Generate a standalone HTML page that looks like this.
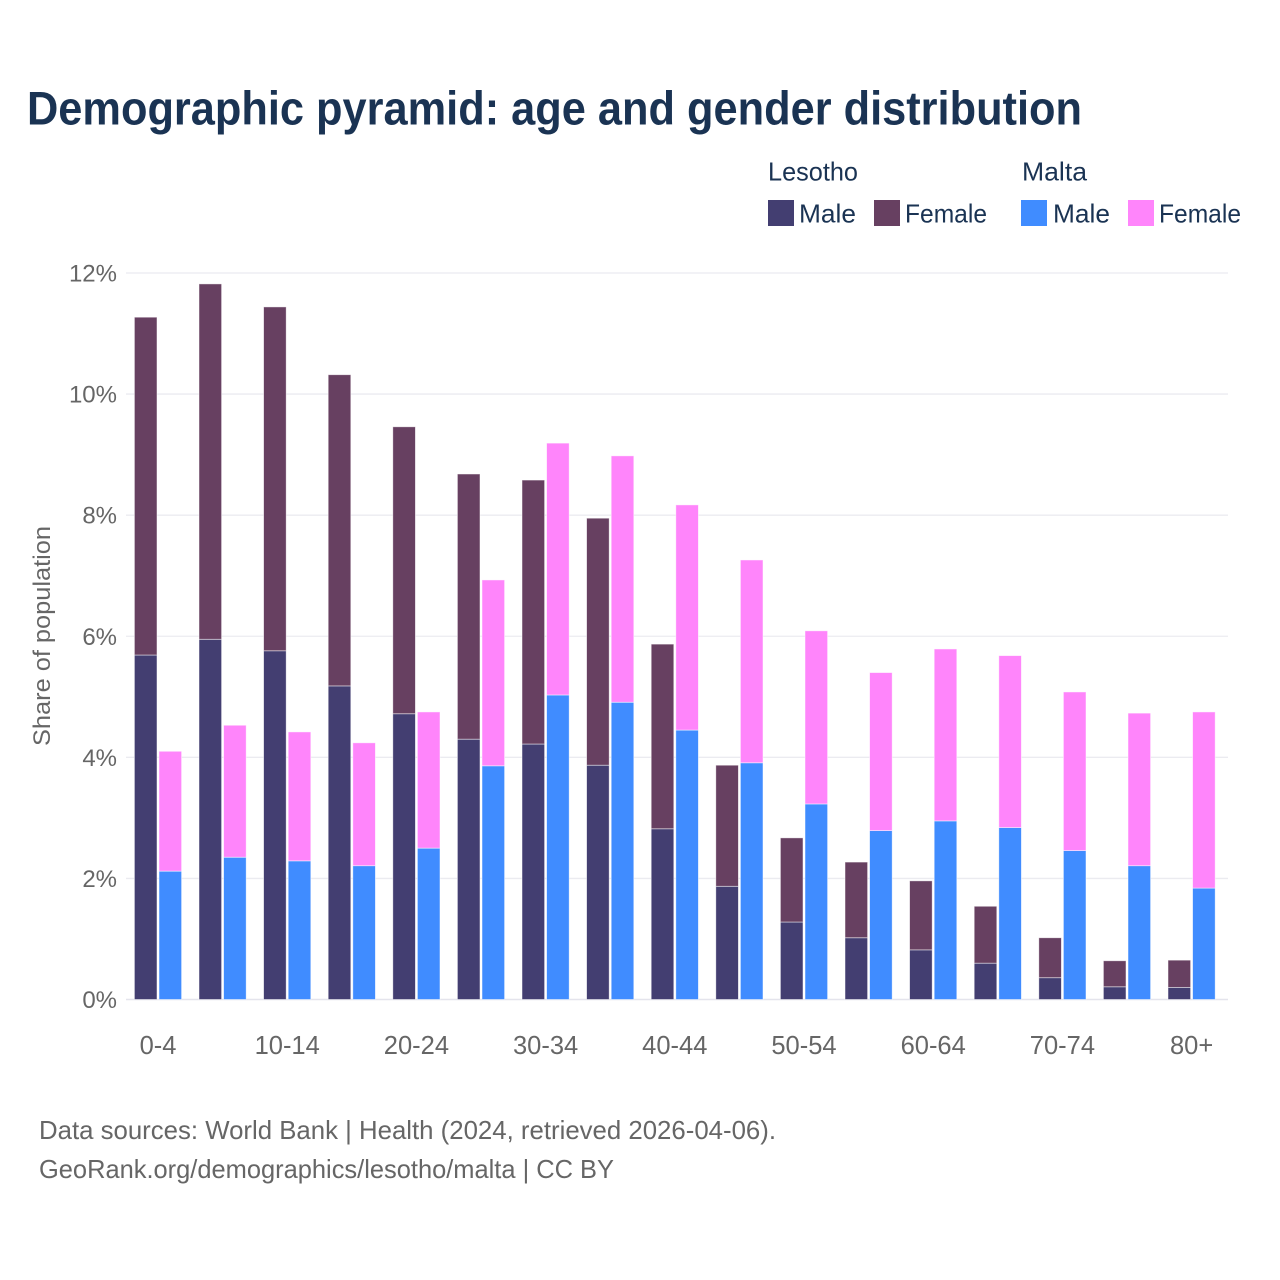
<!DOCTYPE html>
<html lang="en">
<head>
<meta charset="utf-8">
<title>Demographic pyramid</title>
<style>
html,body{margin:0;padding:0;background:#fff;width:1280px;height:1280px;overflow:hidden}
svg{display:block}
text{font-family:"Liberation Sans",sans-serif}
</style>
</head>
<body>
<svg id="chart" xmlns="http://www.w3.org/2000/svg" width="1280" height="1280" viewBox="0 0 1280 1280">
  <rect x="0" y="0" width="1280" height="1280" fill="#ffffff"/>
  <text x="27" y="124.5" font-size="47" font-weight="700" fill="#1a3353" textLength="1055" lengthAdjust="spacingAndGlyphs">Demographic pyramid: age and gender distribution</text>

  <g font-size="26" fill="#1a3353">
    <text x="768" y="180.5" textLength="90" lengthAdjust="spacingAndGlyphs">Lesotho</text>
    <text x="1022" y="180.5" textLength="65" lengthAdjust="spacingAndGlyphs">Malta</text>
    <rect x="768" y="200" width="26" height="26" fill="#433e71"/>
    <text x="799" y="222.5" textLength="57" lengthAdjust="spacingAndGlyphs">Male</text>
    <rect x="874" y="200" width="26" height="26" fill="#674061"/>
    <text x="905" y="222.5" textLength="82" lengthAdjust="spacingAndGlyphs">Female</text>
    <rect x="1021" y="200" width="26" height="26" fill="#408cff"/>
    <text x="1053" y="222.5" textLength="57" lengthAdjust="spacingAndGlyphs">Male</text>
    <rect x="1128" y="200" width="26" height="26" fill="#ff85fb"/>
    <text x="1159" y="222.5" textLength="82" lengthAdjust="spacingAndGlyphs">Female</text>
  </g>

  <g id="grid"></g>
  <g id="yticks" font-size="24" fill="#666666" text-anchor="end"></g>
  <g id="bars"></g>
  <g id="xticks" font-size="25.5" fill="#666666" text-anchor="middle"></g>

  <text transform="translate(50,636) rotate(-90)" text-anchor="middle" font-size="24.5" fill="#666666" textLength="220" lengthAdjust="spacingAndGlyphs">Share of population</text>

  <text x="39" y="1139" font-size="26" fill="#666666" textLength="737" lengthAdjust="spacingAndGlyphs">Data sources: World Bank | Health (2024, retrieved 2026-04-06).</text>
  <text x="39" y="1178" font-size="26" fill="#666666" textLength="575" lengthAdjust="spacingAndGlyphs">GeoRank.org/demographics/lesotho/malta | CC BY</text>
</svg>
<script>
const ageGroups = ["0-4","5-9","10-14","15-19","20-24","25-29","30-34","35-39","40-44","45-49","50-54","55-59","60-64","65-69","70-74","75-79","80+"];
const xTickLabels = ["0-4","10-14","20-24","30-34","40-44","50-54","60-64","70-74","80+"];
const yTickValues = [0,2,4,6,8,10,12];
const lesothoMale = [5.69,5.95,5.76,5.18,4.72,4.30,4.22,3.87,2.82,1.87,1.28,1.02,0.82,0.60,0.36,0.21,0.20];
const lesothoFemale = [5.58,5.87,5.68,5.14,4.74,4.38,4.36,4.08,3.05,2.00,1.39,1.25,1.14,0.94,0.66,0.43,0.45];
const maltaMale = [2.12,2.35,2.29,2.21,2.50,3.86,5.03,4.91,4.45,3.91,3.23,2.79,2.95,2.84,2.46,2.21,1.84];
const maltaFemale = [1.98,2.18,2.13,2.03,2.25,3.07,4.16,4.07,3.72,3.35,2.86,2.61,2.84,2.84,2.62,2.52,2.91];

const NS = "http://www.w3.org/2000/svg";
const plotLeft = 126, plotRight = 1228, yZero = 999.5, yTop = 273, yMax = 12;
const groupFirst = 158, groupLast = 1191.6, barW = 22.6, barGap = 1;
function yScale(v){ return yZero - (v / yMax) * (yZero - yTop); }
function xScale(i){ return groupFirst + i * (groupLast - groupFirst) / (ageGroups.length - 1); }

const gridG = document.getElementById("grid");
const yG = document.getElementById("yticks");
yTickValues.forEach(function(v){
  const line = document.createElementNS(NS, "line");
  
  
  line.setAttribute("x1", plotLeft);
  line.setAttribute("x2", plotRight);
  line.setAttribute("y1", yScale(v));
  line.setAttribute("y2", yScale(v));
  line.setAttribute("stroke", v === 0 ? "#e4e4ec" : "#ebebf0");
  line.setAttribute("stroke-width", v === 0 ? 1.6 : 1.3);
  gridG.appendChild(line);
  const t = document.createElementNS(NS, "text");
  
  
  t.setAttribute("x", 117);
  t.setAttribute("y", yScale(v) + 8.5);
  t.textContent = v + "%";
  yG.appendChild(t);
});

const xG = document.getElementById("xticks");
xTickLabels.forEach(function(label){
  const t = document.createElementNS(NS, "text");
  
  
  t.setAttribute("x", xScale(ageGroups.indexOf(label)));
  t.setAttribute("y", 1054);
  t.textContent = label;
  xG.appendChild(t);
});

const barsG = document.getElementById("bars");
function addBar(x, base, val, fill, name){
  const r = document.createElementNS(NS, "rect");
  
  
  const y0 = yScale(base), y1 = yScale(base + val);
  r.setAttribute("x", x);
  r.setAttribute("y", y1);
  r.setAttribute("width", barW);
  r.setAttribute("height", y0 - y1);
  r.setAttribute("fill", fill);
  r.setAttribute("stroke", "#ffffff");
  r.setAttribute("stroke-opacity", "0.6");
  r.setAttribute("stroke-width", "0.8");
  barsG.appendChild(r);
}
ageGroups.forEach(function(g, i){
  const c = xScale(i);
  const xa = c - barW - barGap;
  const xb = c + barGap;
  addBar(xa, 0, lesothoMale[i], "#433e71", "bar-lesotho-male");
  addBar(xa, lesothoMale[i], lesothoFemale[i], "#674061", "bar-lesotho-female");
  addBar(xb, 0, maltaMale[i], "#408cff", "bar-malta-male");
  addBar(xb, maltaMale[i], maltaFemale[i], "#ff85fb", "bar-malta-female");
});
</script>
</body>
</html>
